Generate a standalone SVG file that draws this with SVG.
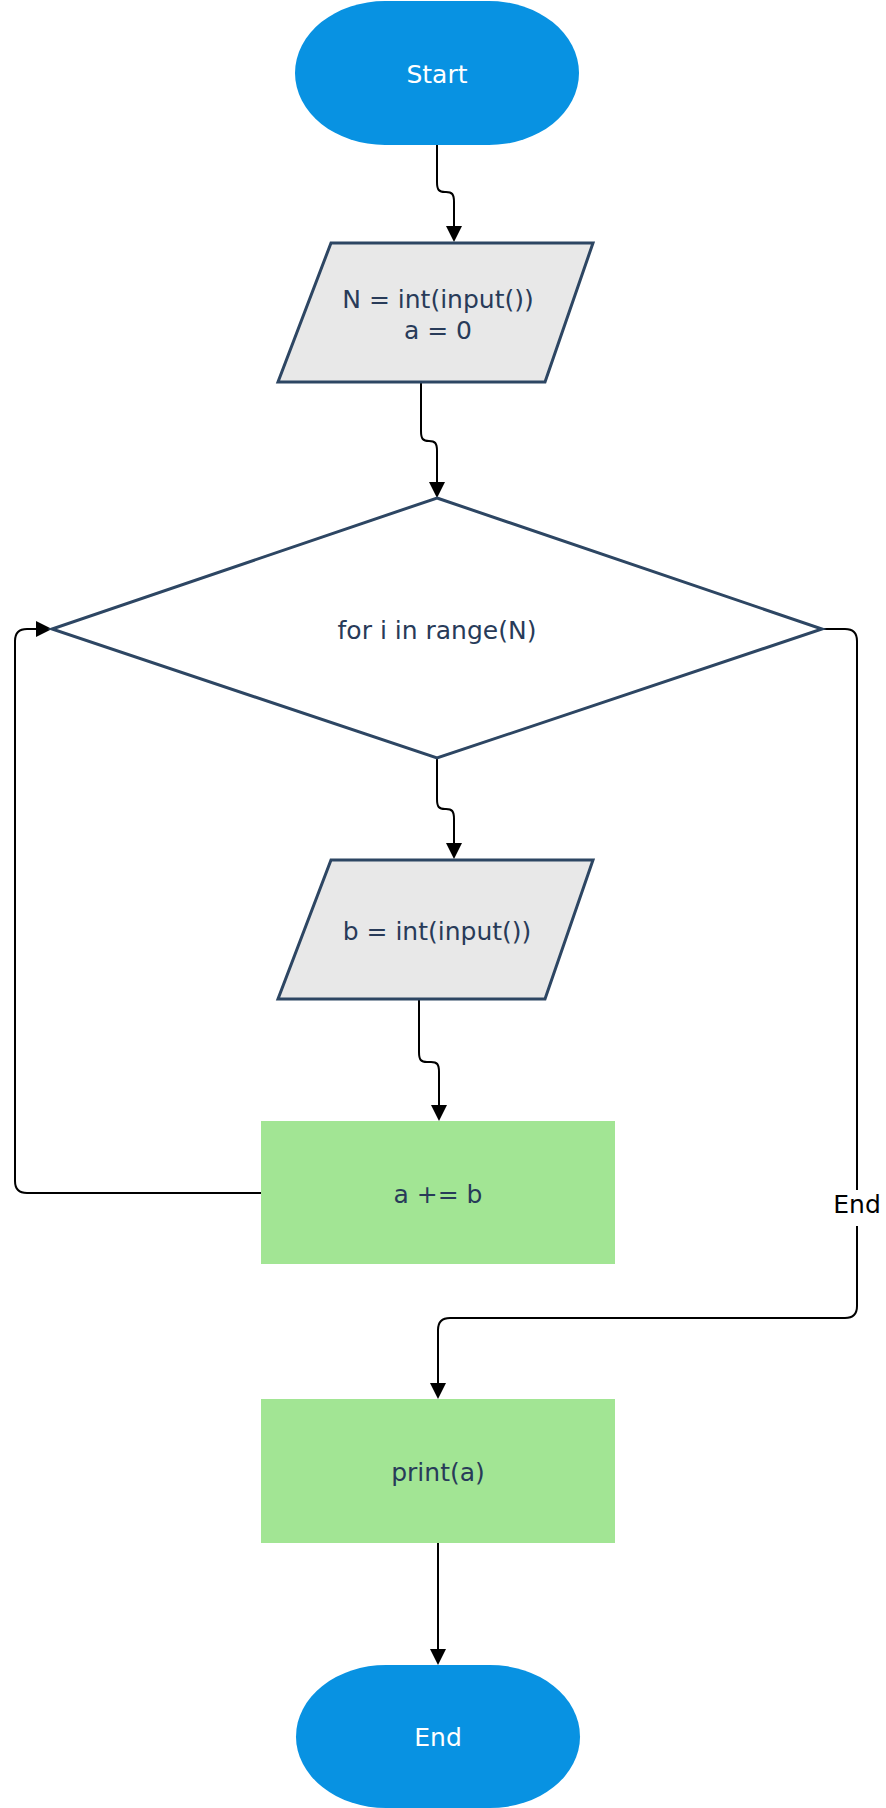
<svg xmlns="http://www.w3.org/2000/svg" width="886" height="1808" viewBox="0 0 886 1808">
  <style>
    .term { fill: #0892e2; }
    .io { fill: #e8e8e8; stroke: #2d4663; stroke-width: 3; stroke-linejoin: miter; }
    .dec { fill: #ffffff; stroke: #2d4663; stroke-width: 3; }
    .proc { fill: #a2e594; }
    .t { font-family: "DejaVu Sans", "Liberation Sans", sans-serif; font-size: 25px; text-anchor: middle; fill: #283b59; }
    .tw { fill: #ffffff; }
    .lbl { font-family: "DejaVu Sans", "Liberation Sans", sans-serif; font-size: 25px; text-anchor: middle; fill: #000000; }
    .conn { fill: none; stroke: #000000; stroke-width: 2; marker-end: url(#arrow); }
  </style>
  <defs>
    <marker id="arrow" viewBox="0 0 16 16" refX="6" refY="8" markerWidth="16" markerHeight="16" markerUnits="userSpaceOnUse" orient="auto">
      <path d="M0,0 L16,8 L0,16 z" fill="#000000"/>
    </marker>
  </defs>

  <g id="connectors">
    <path class="conn" d="M437,145 L437,182 C437,190 439,192 445,192 L446,192 C452,192 454,194 454,202 L454,232"/>
    <path class="conn" d="M421,383 L421,431 C421,439 423,441 429,441 C435,441 437,443 437,451 L437,488"/>
    <path class="conn" d="M437,758 L437,799 C437,807 439,809 445,809 L446,809 C452,809 454,811 454,819 L454,849"/>
    <path class="conn" d="M419,999 L419,1052 C419,1060 421,1062 427,1062 L431,1062 C437,1062 439,1064 439,1072 L439,1111"/>
    <path class="conn" d="M261,1193 L27,1193 Q15,1193 15,1181 L15,641 Q15,629 27,629 L42,629"/>
    <path class="conn" d="M822,629 L845,629 Q857,629 857,641 L857,1306 Q857,1318 845,1318 L450,1318 Q438,1318 438,1330 L438,1389"/>
    <path class="conn" d="M438,1543 L438,1655"/>
    <rect x="832" y="1190" width="54" height="36" fill="#ffffff"/>
    <text class="lbl" x="857" y="1213">End</text>
  </g>

  <g id="start">
    <rect class="term" x="295" y="1" width="284" height="144" rx="90" ry="72"/>
    <text class="t tw" x="437" y="83">Start</text>
  </g>

  <g id="input1">
    <polygon class="io" points="331,243 593,243 545,382 278,382"/>
    <text class="t" x="438" y="308">N = int(input())</text>
    <text class="t" x="438" y="339">a = 0</text>
  </g>

  <g id="loop">
    <polygon class="dec" points="437,498 822,629 437,758 52,629"/>
    <text class="t" x="437" y="639">for i in range(N)</text>
  </g>

  <g id="input2">
    <polygon class="io" points="331,860 593,860 545,999 278,999"/>
    <text class="t" x="437" y="940">b = int(input())</text>
  </g>

  <g id="accumulate">
    <rect class="proc" x="261" y="1121" width="354" height="143"/>
    <text class="t" x="438" y="1203">a += b</text>
  </g>

  <g id="output">
    <rect class="proc" x="261" y="1399" width="354" height="144"/>
    <text class="t" x="438" y="1481">print(a)</text>
  </g>

  <g id="end">
    <rect class="term" x="296" y="1665" width="284" height="143" rx="90" ry="72"/>
    <text class="t tw" x="438" y="1746">End</text>
  </g>
</svg>
